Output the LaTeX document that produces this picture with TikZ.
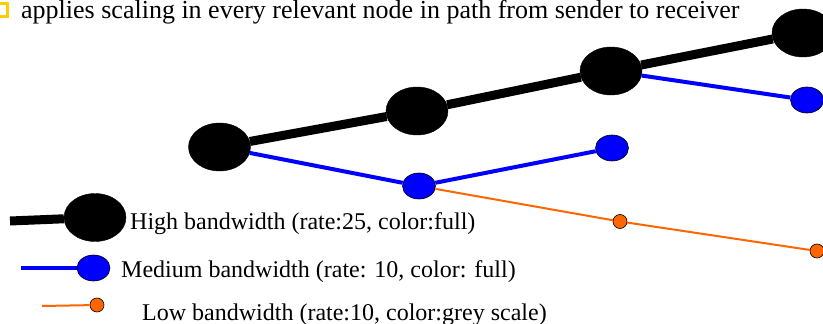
\documentclass[tikz,border=0pt]{standalone}
\usepackage{fontspec}
\setmainfont{Liberation Serif}
\usetikzlibrary{shapes.geometric}
\definecolor{myorange}{RGB}{255,102,0}
\definecolor{myblue}{RGB}{0,0,255}
\definecolor{myyellow}{RGB}{255,204,0}
\tikzset{
  bignode/.style={ellipse,fill=black,draw=black,line width=0.4pt,minimum width=62pt,minimum height=48pt,inner sep=0pt},
  midnode/.style={ellipse,fill=myblue,draw=black,line width=0.6pt,minimum width=33pt,minimum height=26pt,inner sep=0pt},
  lownode/.style={circle,fill=myorange,draw=black,line width=0.6pt,minimum size=14pt,inner sep=0pt},
  highline/.style={line width=9pt,black},
  midline/.style={line width=4pt,myblue},
  lowline/.style={line width=2pt,myorange},
  legend/.style={font=\fontsize{24}{28}\selectfont,anchor=base west,inner sep=0pt},
}
\begin{document}
\begin{tikzpicture}[x=1pt,y=-1pt]
\useasboundingbox (0,0) rectangle (823,324);
\begin{scope}
\clip (0,0) rectangle (823,324);
% title bullet and text
\draw[myyellow,line width=2.5pt] (-10,3.5) rectangle (7.5,16.5);
\node[font=\fontsize{26}{30}\selectfont,anchor=base west,inner sep=0pt] (title) at (21,18.5) {applies scaling in every relevant node in path from sender to receiver};
% nodes
\node[bignode] (A) at (219.5,147) {};
\node[bignode] (B) at (417,111) {};
\node[bignode] (C) at (611,71) {};
\node[bignode] (D) at (803,33) {};
\node[midnode] (E) at (807,100) {};
\node[midnode] (F) at (419,186) {};
\node[midnode] (G) at (612,148) {};
\node[lownode] (H) at (620,221.5) {};
\node[lownode] (I) at (817,251) {};
% connectors
\draw[highline] (A) -- (B);
\draw[highline] (B) -- (C);
\draw[highline] (C) -- (D);
\draw[midline] (A) -- (F);
\draw[midline] (F) -- (G);
\draw[midline] (C) -- (E);
\draw[lowline] (F) -- (H);
\draw[lowline] (H) -- (I);
% legend
\node[bignode] (LH) at (95,217.5) {};
\coordinate (LHs) at (10,221);
\draw[highline] (LHs) -- (LH);
\node[legend] (tH) at (130,229) {High bandwidth (rate:25, color:full)};
\node[midnode] (LM) at (93.5,268) {};
\coordinate (LMs) at (21,268);
\draw[midline] (LMs) -- (LM);
\node[legend] (tM) at (121,277) {Medium bandwidth (rate: 10, color: full)};
\node[lownode] (LL) at (97,305) {};
\coordinate (LLs) at (42,306);
\draw[lowline] (LLs) -- (LL);
\node[legend] (tL) at (142,320) {Low bandwidth (rate:10, color:grey scale)};
\end{scope}
\end{tikzpicture}
\end{document}
